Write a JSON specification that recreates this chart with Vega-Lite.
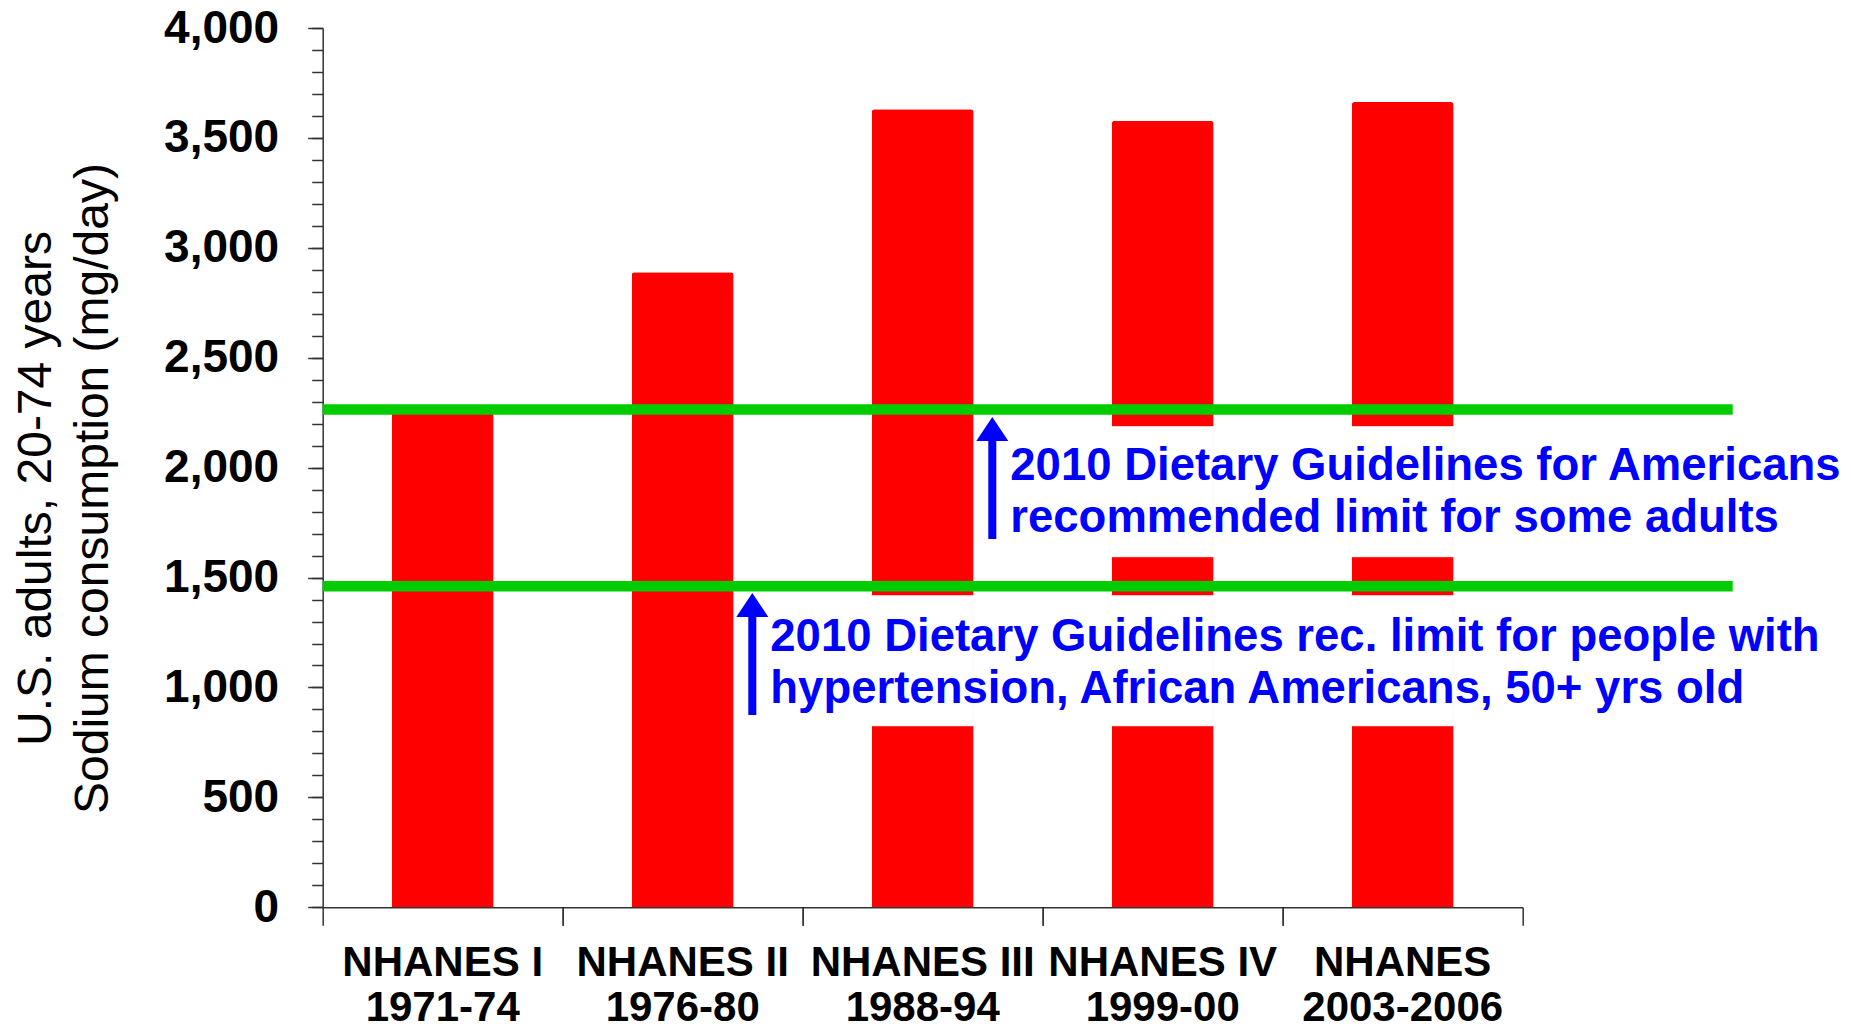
{
  "$schema": "https://vega.github.io/schema/vega-lite/v6.json",
  "autosize": "none",
  "padding": {"left": 322.7, "top": 28, "right": 118.3, "bottom": 119.7},
  "width": 1410,
  "height": 879.3,
  "background": "white",
  "config": {"view": {"stroke": null}, "font": "Liberation Sans"},
  "datasets": {
    "bars": [
      {"survey": "NHANES I 1971-74", "sodium": 2249},
      {"survey": "NHANES II 1976-80", "sodium": 2889},
      {"survey": "NHANES III 1988-94", "sodium": 3630},
      {"survey": "NHANES IV 1999-00", "sodium": 3578},
      {"survey": "NHANES 2003-2006", "sodium": 3663}
    ],
    "gaps": [
      {"survey": "NHANES III 1988-94", "lo": 826, "hi": 1417},
      {"survey": "NHANES IV 1999-00", "lo": 826, "hi": 1417},
      {"survey": "NHANES 2003-2006", "lo": 826, "hi": 1417},
      {"survey": "NHANES IV 1999-00", "lo": 1595, "hi": 2186},
      {"survey": "NHANES 2003-2006", "lo": 1595, "hi": 2186}
    ],
    "limits": [
      {"limit": "2010 DGA general limit", "mg": 2265},
      {"limit": "2010 DGA limit for specific groups", "mg": 1461}
    ],
    "arrows": [
      {"survey": "NHANES III 1988-94", "base": 1675, "neck": 2140, "tip": 2230},
      {"survey": "NHANES II 1976-80", "base": 875, "neck": 1340, "tip": 1430}
    ],
    "notes": [
      {"survey": "NHANES III 1988-94", "y": 1944, "note": "2010 Dietary Guidelines for Americans\nrecommended limit for some adults"},
      {"survey": "NHANES II 1976-80", "y": 1166, "note": "2010 Dietary Guidelines rec. limit for people with\nhypertension, African Americans, 50+ yrs old"}
    ]
  },
  "resolve": {"axis": {"y": "independent", "x": "independent"}},
  "layer": [
    {
      "data": {"name": "bars"},
      "mark": {"type": "bar", "color": "#ff0000", "width": {"band": 0.425}, "cornerRadiusTopLeft": 3, "cornerRadiusTopRight": 3},
      "encoding": {
        "x": {
          "field": "survey", "type": "nominal",
          "scale": {"domain": ["NHANES I 1971-74", "NHANES II 1976-80", "NHANES III 1988-94", "NHANES IV 1999-00", "NHANES 2003-2006"], "range": [0, 1200], "paddingInner": 0, "paddingOuter": 0},
          "axis": {
            "orient": "bottom",
            "title": null,
            "bandPosition": 0,
            "tickSize": 18, "tickWidth": 1.5, "tickColor": "#333",
            "domainColor": "#333", "domainWidth": 1.5,
            "labelAngle": 0,
            "labelExpr": "substring(datum.value, 0, lastindexof(datum.value, ' '))",
            "labelFont": "Liberation Sans", "labelFontSize": 42, "labelFontWeight": "bold", "labelColor": "#000",
            "labelBaseline": "alphabetic", "labelPadding": 50,
            "labelLimit": 500, "labelOverlap": false, "grid": false
          }
        },
        "y": {
          "field": "sodium", "type": "quantitative",
          "scale": {"domain": [0, 4000], "nice": false, "zero": true},
          "axis": {
            "orient": "left",
            "values": [0, 500, 1000, 1500, 2000, 2500, 3000, 3500, 4000],
            "format": ",d",
            "grid": false,
            "tickSize": 15, "tickWidth": 1.5, "tickColor": "#333",
            "domainColor": "#333", "domainWidth": 1.5,
            "labelFont": "Liberation Sans", "labelFontSize": 46, "labelFontWeight": "bold", "labelColor": "#000", "labelPadding": 29,
            "title": ["U.S. adults, 20-74 years", "Sodium consumption (mg/day)"],
            "titleFont": "Liberation Sans", "titleFontSize": 48, "titleFontWeight": "normal", "titleColor": "#000",
            "titleLineHeight": 57, "titleAngle": -90, "titleAlign": "center", "titleBaseline": "alphabetic",
            "titleX": -272.7, "titleY": 460
          }
        }
      }
    },
    {
      "data": {"name": "gaps"},
      "mark": {"type": "bar", "color": "#ffffff", "stroke": "#ffffff", "strokeWidth": 1, "width": {"band": 0.425}},
      "encoding": {
        "x": {"field": "survey", "type": "nominal",
          "axis": {
            "orient": "bottom", "title": null, "domain": false, "grid": false,
            "bandPosition": 1,
            "ticks": true, "tickSize": 18, "tickWidth": 1.5, "tickColor": "#333",
            "labelAngle": 0,
            "labelExpr": "substring(datum.value, lastindexof(datum.value, ' ') + 1)",
            "labelFont": "Liberation Sans", "labelFontSize": 42, "labelFontWeight": "bold", "labelColor": "#000",
            "labelBaseline": "alphabetic", "labelPadding": 95, "labelLimit": 500, "labelOverlap": false
          }},
        "y": {"field": "lo", "type": "quantitative", "scale": {"domain": [0, 4000], "nice": false},
          "axis": {"orient": "left", "values": [0,100,200,300,400,500,600,700,800,900,1000,1100,1200,1300,1400,1500,1600,1700,1800,1900,2000,2100,2200,2300,2400,2500,2600,2700,2800,2900,3000,3100,3200,3300,3400,3500,3600,3700,3800,3900,4000],
            "tickSize": 11, "tickWidth": 1.5, "tickColor": "#333", "labels": false, "domain": false, "grid": false, "title": null}},
        "y2": {"field": "hi"}
      }
    },
    {
      "data": {"name": "limits"},
      "mark": {"type": "rule", "color": "#00cc00", "strokeWidth": 10.5},
      "encoding": {
        "y": {"field": "mg", "type": "quantitative", "scale": {"domain": [0, 4000], "nice": false}, "axis": null}
      }
    },
    {
      "data": {"name": "arrows"},
      "mark": {"type": "rule", "color": "#0000ff", "strokeWidth": 8},
      "encoding": {
        "x": {"field": "survey", "type": "nominal", "bandPosition": 0.79, "axis": null},
        "y": {"field": "base", "type": "quantitative", "scale": {"domain": [0, 4000], "nice": false}, "axis": null},
        "y2": {"field": "neck"}
      }
    },
    {
      "data": {"name": "arrows"},
      "mark": {"type": "point", "shape": "M0,0L1,1.5L-1,1.5Z", "size": 1024, "filled": true, "color": "#0000ff", "opacity": 1, "strokeWidth": 0},
      "encoding": {
        "x": {"field": "survey", "type": "nominal", "bandPosition": 0.79, "axis": null},
        "y": {"field": "tip", "type": "quantitative", "scale": {"domain": [0, 4000], "nice": false}, "axis": null}
      }
    },
    {
      "data": {"name": "notes"},
      "mark": {"type": "text", "align": "left", "baseline": "alphabetic", "font": "Liberation Sans", "fontSize": 45.5, "fontWeight": "bold", "color": "#0000ff", "lineBreak": "\n", "lineHeight": 52},
      "encoding": {
        "x": {"field": "survey", "type": "nominal", "bandPosition": 0.865, "axis": null},
        "y": {"field": "y", "type": "quantitative", "scale": {"domain": [0, 4000], "nice": false}, "axis": null},
        "text": {"field": "note"}
      }
    }
  ]
}
